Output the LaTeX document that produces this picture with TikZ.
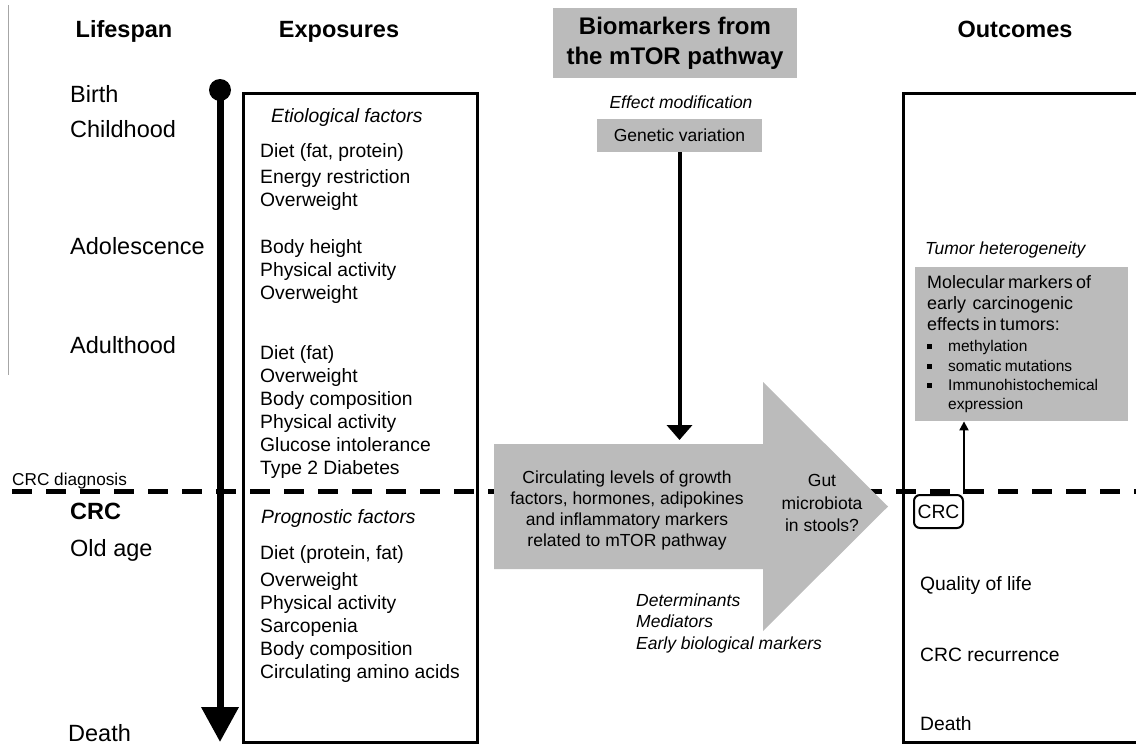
\documentclass[tikz,border=0pt]{standalone}
\usepackage{fontspec}
\setmainfont{Liberation Sans}
\usetikzlibrary{arrows.meta}

\definecolor{boxgray}{RGB}{187,187,187}
\newcommand{\sqbullet}{\makebox[21pt][l]{\rule[2.5pt]{5pt}{5pt}}}

\begin{document}
\begin{tikzpicture}[
    x=1pt, y=-1pt,
    header/.style={anchor=base, inner sep=0pt, font=\bfseries\fontsize{23.5}{28}\selectfont},
    stage/.style={anchor=base west, inner sep=0pt, font=\fontsize{23.5}{28}\selectfont},
    item/.style={anchor=base west, inner sep=0pt, align=left, font=\fontsize{19.3}{23}\selectfont},
    note/.style={inner sep=0pt, align=left, font=\itshape\fontsize{17.5}{21.5}\selectfont},
    graybox/.style={rectangle, fill=boxgray, inner sep=0pt, align=center},
    frame/.style={rectangle, draw, line width=3pt, inner sep=0pt},
    arrow/.style={-{Triangle[width=25pt,length=15pt]}, line width=4pt},
    smallarrow/.style={-{Triangle[width=9pt,length=9pt]}, line width=2pt},
    lifeline/.style={-{Triangle[width=36pt,length=35pt]}, line width=7pt},
    diagline/.style={dash pattern=on 20pt off 14pt, line width=5pt}
]
\useasboundingbox (0,0) rectangle (1136,744);

% Stray margin line
\draw[gray!70, line width=1pt] (8,5) -- (8,375);

% Column headers
\node[header] (lifespan) at (124,37) {Lifespan};
\node[header] (exposures) at (339,37) {Exposures};
\node[header] (outcomes) at (1015,37) {Outcomes};
\node[graybox, minimum width=244pt, minimum height=70pt, font=\bfseries\fontsize{24}{30}\selectfont] (biomarkers) at (675,43) {Biomarkers from\\the mTOR pathway};

% Lifespan stages
\node[stage] (birth) at (70,102) {Birth};
\node[stage] (childhood) at (70,137) {Childhood};
\node[stage] (adolescence) at (70,254) {Adolescence};
\node[stage] (adulthood) at (70,353) {Adulthood};
\node[stage, font=\bfseries\fontsize{23.5}{28}\selectfont] (crc) at (70,519) {CRC};
\node[stage] (oldage) at (70,556) {Old age};
\node[stage] (death) at (68,741) {Death};

% Timeline
\node[circle, fill, minimum size=22pt, inner sep=0pt] (birthdot) at (220,90) {};
\coordinate (deathpt) at (220,742);
\draw[lifeline] (birthdot.center) -- (deathpt);

% CRC diagnosis line
\node[anchor=base west, inner sep=0pt, font=\fontsize{17.2}{20}\selectfont] (diagnosis) at (12,485) {CRC diagnosis};
\coordinate (diagstart) at (12,491);
\coordinate (diagend) at (1136,491);
\draw[diagline] (diagstart) -- (diagend);

% Exposures (base anchor = last line)
\node[frame, minimum width=234pt, minimum height=649pt] (expbox) at (360,417.5) {};
\node[note, anchor=base west, font=\itshape\fontsize{19.3}{23}\selectfont] (etiological) at (271,122) {Etiological factors};
\node[item] (childexp) at (260,206) {Diet (fat, protein)\\[3pt]Energy restriction\\Overweight};
\node[item] (adolexp) at (260,299) {Body height\\Physical activity\\Overweight};
\node[item] (adultexp) at (260,474) {Diet (fat)\\Overweight\\Body composition\\Physical activity\\Glucose intolerance\\Type 2 Diabetes};
\node[note, anchor=base west, font=\itshape\fontsize{19.3}{23}\selectfont] (prognostic) at (261,523) {Prognostic factors};
\node[item] (oldexp) at (260,678) {Diet (protein, fat)\\[4pt]Overweight\\Physical activity\\Sarcopenia\\Body composition\\Circulating amino acids};

% Biomarkers
\node[note, anchor=center] (effectmod) at (681,102) {Effect modification};
\node[graybox, minimum width=165pt, minimum height=33pt, font=\fontsize{17.5}{21}\selectfont] (genvar) at (679.5,135.5) {Genetic variation};
\coordinate (effect) at (679.5,440);
\draw[arrow] (genvar) -- (effect);

% Big arrow
\fill[boxgray] (494,444) -- (763,444) -- (763,382) -- (888,506.5) -- (763,631) -- (763,569) -- (494,569) -- cycle;
\node[align=center, inner sep=0pt, font=\fontsize{17.5}{21}\selectfont] (circulating) at (627,510) {Circulating levels of growth\\factors, hormones, adipokines\\and inflammatory markers\\related to mTOR pathway};
\node[align=center, inner sep=0pt, font=\fontsize{17.5}{22.5}\selectfont] (gut) at (822,503) {Gut\\microbiota\\in stools?};
\node[note, anchor=base west] (roles) at (636,649) {Determinants\\Mediators\\Early biological markers};

% Outcomes
\node[frame, minimum width=242pt, minimum height=649pt] (outbox) at (1024,417.5) {};
\node[note, anchor=base west] (tumorhet) at (925,254) {Tumor heterogeneity};
\node[graybox, anchor=north west, minimum width=213pt, minimum height=154pt, text width=189pt, inner xsep=12pt, align=left] (molmarkers) at (915,267) {%
    {\fontsize{17.9}{21}\selectfont Molecular markers of\\early\ \ carcinogenic\\effects in tumors:\par}
    \vspace{2pt}
    {\fontsize{15.5}{19.3}\selectfont \sqbullet methylation\\\sqbullet somatic mutations\\\sqbullet Immunohistochemical\\\hspace*{21pt}expression\par}};
\node[rectangle, draw, line width=2pt, rounded corners=6pt, minimum width=49pt, minimum height=33pt, inner sep=0pt, font=\fontsize{19.3}{23}\selectfont] (crcbox) at (938.5,511.5) {CRC};
\draw[smallarrow] (crcbox.north east) -- (crcbox.north east |- molmarkers.south);

\node[item] (quality) at (920,590) {Quality of life};
\node[item] (recurrence) at (920,661) {CRC recurrence};
\node[item] (outdeath) at (920,730) {Death};

\end{tikzpicture}
\end{document}
